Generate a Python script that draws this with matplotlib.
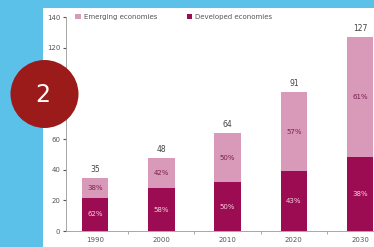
import matplotlib.pyplot as plt
from matplotlib.patches import Ellipse, Rectangle
import numpy as np

years = ['1990', '2000', '2010', '2020', '2030']
totals = [35, 48, 64, 91, 127]
developed_pct = [62, 58, 50, 43, 38]
emerging_pct = [38, 42, 50, 57, 61]

dev_color = '#9c0c52'
emg_color = '#d99ab9'

fig = plt.figure(figsize=(3.74, 2.47), dpi=100)
fig.patch.set_facecolor('#5cc1e9')

# white panel behind the chart
fig.patches.append(Rectangle((43 / 374, 0), 1, 1 - 8 / 247, transform=fig.transFigure,
                             facecolor='white', edgecolor='none', zorder=-1))

ax = fig.add_axes([66 / 374, 16 / 247, 308 / 374, (231 - 17) / 247])
ax.set_facecolor('none')

x = np.arange(len(years))
dev = np.array(totals) * np.array(developed_pct) / 100
emg = np.array(totals) - dev
w = 0.4

ax.bar(x, dev, w, color=dev_color, label='Developed economies', zorder=2)
ax.bar(x, emg, w, bottom=dev, color=emg_color, label='Emerging economies', zorder=2)

for i in range(len(years)):
    ax.text(x[i], totals[i] + 2.5, str(totals[i]), ha='center', va='bottom',
            fontsize=5.5, color='#444444')
    ax.text(x[i], dev[i] / 2, '%d%%' % developed_pct[i], ha='center', va='center',
            fontsize=5, color='#f4d0e0')
    ax.text(x[i], dev[i] + emg[i] / 2, '%d%%' % emerging_pct[i], ha='center', va='center',
            fontsize=5, color='#7a2050')

ax.set_xlim(-0.44, 4.21)
ax.set_ylim(0, 140)
ax.set_yticks(range(0, 141, 20))
ax.set_xticks(x)
ax.set_xticklabels(years)
ax.set_xticks(x[:-1] + 0.5, minor=True)
ax.tick_params(axis='x', which='major', length=0, labelsize=5, colors='#555555', pad=4)
ax.tick_params(axis='x', which='minor', length=2, color='#999999')
ax.tick_params(axis='y', length=2, labelsize=5, colors='#555555', pad=2)
for s in ['top', 'right']:
    ax.spines[s].set_visible(False)
for s in ['left', 'bottom']:
    ax.spines[s].set_color('#999999')
    ax.spines[s].set_linewidth(0.6)

handles, labels = ax.get_legend_handles_labels()
ax.legend(handles[::-1], labels[::-1], loc='upper left', bbox_to_anchor=(0.01, 1.045),
          ncol=2, frameon=False, fontsize=5, handlelength=0.8, handleheight=0.8,
          handletextpad=0.4, columnspacing=4.3, labelcolor='#555555')

# numbered badge
fig.patches.append(Ellipse((44.5 / 374, 1 - 94 / 247), 68 / 374, 68 / 247,
                           transform=fig.transFigure, facecolor='#9b1b1b',
                           edgecolor='none', zorder=5))
fig.text(43 / 374, 1 - 95 / 247, '2', ha='center', va='center', fontsize=17,
         color='white', zorder=6)

plt.savefig('out.png', dpi=100)
